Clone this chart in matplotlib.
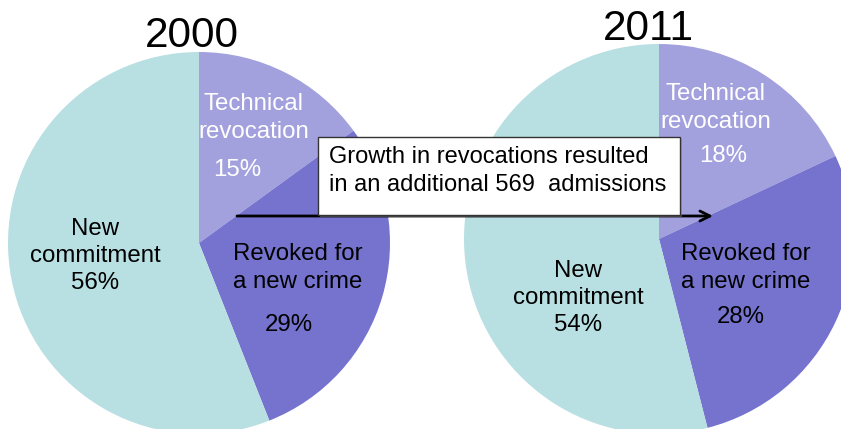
import matplotlib.pyplot as plt
from matplotlib.patches import Rectangle

plt.rcParams["font.family"] = ["Liberation Sans", "DejaVu Sans"]

# Data
categories = ["Technical revocation", "Revoked for a new crime", "New commitment"]
share_2000 = [15, 29, 56]
share_2011 = [18, 28, 54]
colors = ["#A3A1DD", "#7573CE", "#B8DFE2"]
note = "Growth in revocations resulted\nin an additional 569  admissions"

W, H = 841, 429
fig = plt.figure(figsize=(W / 100, H / 100), dpi=100)
ax = fig.add_axes([0, 0, 1, 1])


def Y(y):
    # image pixel row -> axes y (y up)
    return H - y


def draw_pie(values, center, radius):
    ax.pie(values, colors=colors, startangle=90, counterclock=False,
           center=center, radius=radius, frame=False,
           wedgeprops=dict(linewidth=0))


draw_pie(share_2000, (199, Y(243)), 191)
draw_pie(share_2011, (659, Y(239)), 195)

ax.set_xlim(0, W)
ax.set_ylim(0, H)
ax.set_aspect("equal")
ax.axis("off")

fs = 17.3
# titles
ax.text(192, Y(47), "2000", fontsize=30.5, ha="center", va="baseline")
ax.text(648, Y(40), "2011", fontsize=30.5, ha="center", va="baseline")

# 2000 labels
ax.text(254, Y(118), "Technical\nrevocation", color="white", fontsize=fs,
        ha="center", va="center", linespacing=1.3)
ax.text(237, Y(170), f"{share_2000[0]}%", color="white", fontsize=fs,
        ha="center", va="center")
ax.text(95, Y(256), f"New\ncommitment\n{share_2000[2]}%", fontsize=fs,
        ha="center", va="center", linespacing=1.3)
ax.text(298, Y(268), "Revoked for\na new crime", fontsize=fs,
        ha="center", va="center", linespacing=1.3)
ax.text(289, Y(325), f"{share_2000[1]}%", fontsize=fs, ha="center", va="center")

# 2011 labels
ax.text(716, Y(108), "Technical\nrevocation", color="white", fontsize=fs,
        ha="center", va="center", linespacing=1.3)
ax.text(723, Y(156), f"{share_2011[0]}%", color="white", fontsize=fs,
        ha="center", va="center")
ax.text(578, Y(298), f"New\ncommitment\n{share_2011[2]}%", fontsize=fs,
        ha="center", va="center", linespacing=1.3)
ax.text(746, Y(268), "Revoked for\na new crime", fontsize=fs,
        ha="center", va="center", linespacing=1.3)
ax.text(741, Y(317), f"{share_2011[1]}%", fontsize=fs, ha="center", va="center")

# arrow
ax.annotate("", xy=(713, Y(216)), xytext=(237, Y(216)),
            arrowprops=dict(arrowstyle="->", color="black", lw=2,
                            mutation_scale=18, shrinkA=0, shrinkB=0))

# callout box with a soft shadow
x0, x1, y0, y1 = 318, 680, 137, 215
ax.add_patch(Rectangle((x0 + 2, Y(y1) - 2), x1 - x0, y1 - y0,
                       facecolor="#888888", alpha=0.5, edgecolor="none", zorder=4))
ax.add_patch(Rectangle((x0, Y(y1)), x1 - x0, y1 - y0,
                       facecolor="white", edgecolor="#333333", lw=1, zorder=5))
ax.text(329, Y(171), note, fontsize=17, ha="left", va="center",
        linespacing=1.38, zorder=6)

fig.savefig("out.png", dpi=100)
